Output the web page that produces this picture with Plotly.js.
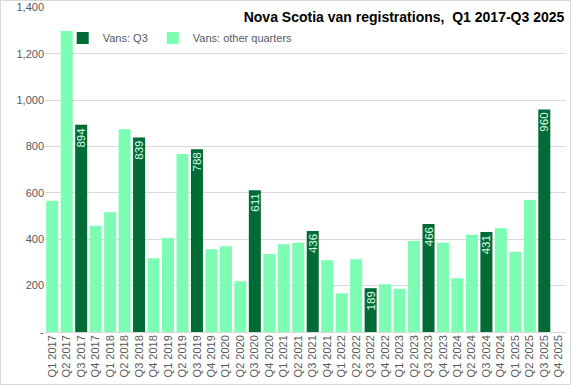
<!DOCTYPE html>
<html><head><meta charset="utf-8">
<script src="https://cdn.plot.ly/plotly-3.0.1.min.js"></script>
<style>html,body{margin:0;padding:0;background:#fff}#c{width:571px;height:385px;box-sizing:border-box;border:1px solid #d9d9d9}</style>
</head><body><div id="c"></div>
<script>
const quarters = ["Q1 2017","Q2 2017","Q3 2017","Q4 2017","Q1 2018","Q2 2018","Q3 2018","Q4 2018","Q1 2019","Q2 2019","Q3 2019","Q4 2019","Q1 2020","Q2 2020","Q3 2020","Q4 2020","Q1 2021","Q2 2021","Q3 2021","Q4 2021","Q1 2022","Q2 2022","Q3 2022","Q4 2022","Q1 2023","Q2 2023","Q3 2023","Q4 2023","Q1 2024","Q2 2024","Q3 2024","Q4 2024","Q1 2025","Q2 2025","Q3 2025","Q4 2025"];
const vansQ3 = [null,null,894,null,null,null,839,null,null,null,788,null,null,null,611,null,null,null,436,null,null,null,189,null,null,null,466,null,null,null,431,null,null,null,960,null];
const vansOther = [566,1299,null,458,517,875,null,318,405,768,null,357,370,219,null,337,379,385,null,310,167,314,null,206,186,393,null,385,232,419,null,448,346,569,null,null];
const yTickVals = [0,200,400,600,800,1000,1200,1400];
const yTickText = ["-","200","400","600","800","1,000","1,200","1,400"];

const font = "'Liberation Sans', Arial, sans-serif";
const titleFont = "'Liberation Sans Narrow', 'Liberation Sans', Arial, sans-serif";
const traces = [
  {type:"bar", name:"Vans: Q3", x:quarters, y:vansQ3, marker:{color:"#006B35"},
   text:vansQ3.map(v=>v==null?"":String(v)), textposition:"inside", insidetextanchor:"end", constraintext:"none",
   textangle:-90, textfont:{color:"#d8ffe6", size:11.5, family:font}, cliponaxis:false, hoverinfo:"x+y"},
  {type:"bar", name:"Vans: other quarters", x:quarters, y:vansOther, marker:{color:"#7DFDB3"}, hoverinfo:"x+y"}
];
const layout = {
  width:569, height:383,
  margin:{l:44, r:4, t:6, b:52},
  barmode:"overlay", bargap:0.17,
  paper_bgcolor:"#fff", plot_bgcolor:"#fff",
  font:{family:font, size:11, color:"#595959"},
  title:{text:"<b>Nova Scotia van registrations,  Q1 2017-Q3 2025</b>", x:0.99, xanchor:"right", xref:"container",
         y:0.958, yanchor:"middle", yref:"container", font:{size:14, color:"#000", family:titleFont}},
  xaxis:{type:"category", tickangle:-90, showgrid:false, showline:false, ticks:"", tickfont:{size:11, color:"#595959"}},
  yaxis:{range:[0,1402], tickvals:yTickVals, ticktext:yTickText, showgrid:true, gridcolor:"#d9d9d9", gridwidth:1,
         zeroline:true, zerolinecolor:"#d9d9d9", showline:false, ticks:"", tickfont:{size:11, color:"#595959"}},
  legend:{orientation:"h", x:0.034, xanchor:"left", y:0.905, yanchor:"middle", font:{size:11, color:"#595959"},
          bgcolor:"rgba(0,0,0,0)", traceorder:"normal", itemwidth:30},
  showlegend:true
};
Plotly.newPlot("c", traces, layout, {displayModeBar:false, staticPlot:true});
</script></body></html>
